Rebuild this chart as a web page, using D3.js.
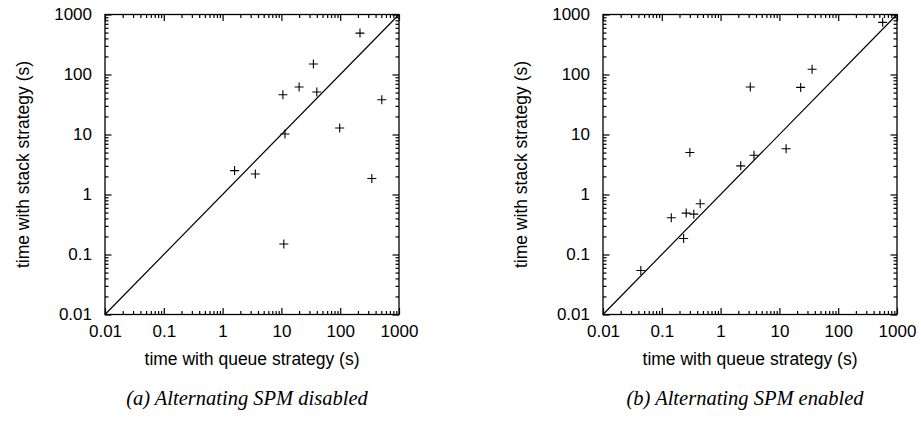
<!DOCTYPE html>
<html>
<head>
<meta charset="utf-8">
<script src="https://cdn.jsdelivr.net/npm/d3@7"></script>
<style>
    body { margin: 0; background: #fff; }
    .tickLabel { font-family: "Liberation Sans", Arial, sans-serif; font-size: 17px; fill: #000; }
    .axisTitle { font-family: "Liberation Sans", Arial, sans-serif; font-size: 17.5px; fill: #000; }
    .caption { font-family: "Liberation Serif", "Times New Roman", serif; font-style: italic; font-size: 20.5px; fill: #000; }
</style>
</head>
<body>
<script>
// major tick values and their labels (same on both axes)
var tickValues = [0.01, 0.1, 1, 10, 100, 1000];
var tickLabels = ['0.01', '0.1', '1', '10', '100', '1000'];

// (a) alternating SPM disabled
var queueA = [217, 35, 20, 10.6, 40, 510, 11.5, 98, 1.6, 3.6, 345, 11];
var stackA = [490, 150, 62, 46, 51, 38, 10.2, 12.8, 2.5, 2.2, 1.85, 0.15];

// (b) alternating SPM enabled
var queueB = [570, 36, 23, 3.2, 0.3, 13, 3.7, 2.2, 0.45, 0.26, 0.35, 0.145, 0.235, 0.044];
var stackB = [740, 122, 61, 62, 5, 5.8, 4.5, 3.0, 0.7, 0.49, 0.47, 0.41, 0.185, 0.054];

var captions = ['(a) Alternating SPM disabled', '(b) Alternating SPM enabled'];

window.onload = function() {
    var svg = d3.select('body')
        .append('svg')
        .attr('width', 921)
        .attr('height', 422);

    var panels = [
        {left: 105, queue: queueA, stack: stackA, caption: captions[0], capX: 247},
        {left: 603, queue: queueB, stack: stackB, caption: captions[1], capX: 745}
    ];
    var plotTop = 14.5, w = 294, h = 300;

    panels.forEach(function(p) {
        var g = svg.append('g')
            .attr('transform', 'translate(' + p.left + ',' + plotTop + ')');

        var x = d3.scaleLog().domain([0.01, 1000]).range([0, w]);
        var y = d3.scaleLog().domain([0.01, 1000]).range([h, 0]);

        // minor ticks: the 2..9 multiples in each decade
        var minors = [];
        tickValues.slice(0, -1).forEach(function(v) {
            [2, 3, 4, 5, 6, 7, 8, 9].forEach(function(m) { minors.push(v * m); });
        });

        // tick marks pointing into the plot: each axis is placed on the opposite edge
        // of the side it faces (axisTop at the bottom edge draws ticks upward, etc.)
        var markAxes = [
            {make: d3.axisTop, s: x, tr: 'translate(0,' + h + ')'},
            {make: d3.axisBottom, s: x, tr: 'translate(0,0)'},
            {make: d3.axisRight, s: y, tr: 'translate(0,0)'},
            {make: d3.axisLeft, s: y, tr: 'translate(' + w + ',0)'}
        ];
        markAxes.forEach(function(m) {
            [[minors, 3.5], [tickValues, 6.5]].forEach(function(set) {
                var a = g.append('g')
                    .attr('transform', m.tr)
                    .call(m.make(m.s)
                        .tickValues(set[0])
                        .tickSize(set[1])
                        .tickFormat(function() { return ''; }));
                a.select('.domain').remove();
                a.selectAll('text').remove();
                a.selectAll('line')
                    .attr('stroke', '#000')
                    .attr('stroke-width', 1.2);
            });
        });

        // tick labels from d3 axes (no lines)
        var xAxis = d3.axisBottom(x)
            .tickValues(tickValues)
            .tickSize(0)
            .tickPadding(10)
            .tickFormat(function(d, i) { return tickLabels[i]; });
        var yAxis = d3.axisLeft(y)
            .tickValues(tickValues)
            .tickSize(0)
            .tickPadding(13)
            .tickFormat(function(d, i) { return tickLabels[i]; });

        [g.append('g').attr('transform', 'translate(0,' + h + ')').call(xAxis),
         g.append('g').call(yAxis)].forEach(function(a) {
            a.select('.domain').remove();
            a.selectAll('line').remove();
            a.attr('font-size', null).attr('font-family', null);
            a.selectAll('text').attr('class', 'tickLabel');
        });

        // frame
        g.append('rect')
            .attr('width', w)
            .attr('height', h)
            .attr('fill', 'none')
            .attr('stroke', '#000')
            .attr('stroke-width', 1.3);

        // y = x reference line
        g.append('line')
            .attr('x1', x(0.01)).attr('y1', y(0.01))
            .attr('x2', x(1000)).attr('y2', y(1000))
            .attr('stroke', '#000')
            .attr('stroke-width', 1.2);

        // plus markers
        var pts = p.queue.map(function(q, i) { return [q, p.stack[i]]; });
        g.selectAll('.pt')
            .data(pts)
            .enter()
            .append('path')
            .attr('class', 'pt')
            .attr('d', function(d) {
                var cx = x(d[0]), cy = y(d[1]), r = 4.5;
                return 'M' + (cx - r) + ',' + cy + 'H' + (cx + r) +
                    'M' + cx + ',' + (cy - r) + 'V' + (cy + r);
            })
            .attr('stroke', '#000')
            .attr('stroke-width', 1.1)
            .attr('fill', 'none');

        // axis titles
        g.append('text')
            .attr('class', 'axisTitle')
            .attr('text-anchor', 'middle')
            .attr('x', w / 2)
            .attr('y', h + 50)
            .text('time with queue strategy (s)');

        g.append('text')
            .attr('class', 'axisTitle')
            .attr('text-anchor', 'middle')
            .attr('transform', 'translate(-76,' + (h / 2) + ') rotate(-90)')
            .text('time with stack strategy (s)');

        // caption under each panel
        svg.append('text')
            .attr('class', 'caption')
            .attr('text-anchor', 'middle')
            .attr('x', p.capX)
            .attr('y', 405)
            .text(p.caption);
    });
};
</script>
</body>
</html>
